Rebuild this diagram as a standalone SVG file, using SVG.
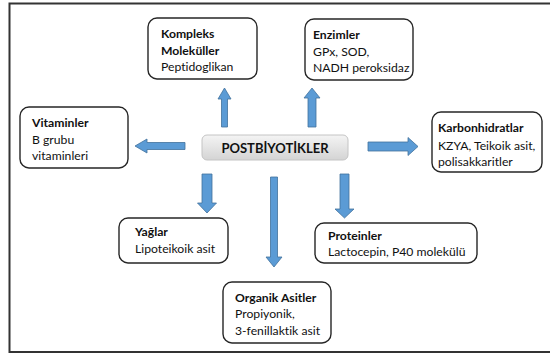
<svg xmlns="http://www.w3.org/2000/svg" width="550" height="356" viewBox="0 0 550 356">
<defs>
<linearGradient id="cg" x1="0" y1="0" x2="0" y2="1">
<stop offset="0" stop-color="#f4f4f4"/>
<stop offset="1" stop-color="#d4d4d4"/>
</linearGradient>
</defs>
<style>
.box{fill:#fff;stroke:#262626;stroke-width:1.4}
.t{font-family:Lato,"Liberation Sans",sans-serif;font-size:12.2px;fill:#111;font-variant-ligatures:none;font-feature-settings:"liga" 0,"dlig" 0}
.b{font-weight:bold}
.arr{fill:#5b9bd5;stroke:#41719c;stroke-width:0.8}
</style>
<rect x="9.5" y="3.5" width="560" height="348.5" fill="#fff" stroke="#333" stroke-width="2"/>
<g id="connectors">
<path class="arr" d="M221.5,127 V99 H218 L224.5,88 L231,99 H227.5 V127 Z"/>
<path class="arr" d="M308,127 V98 H304 L312,88 L320,98 H316 V127 Z"/>
<path class="arr" d="M185,142.5 H147 V139 L135,146 L147,153 V149.5 H185 Z"/>
<path class="arr" d="M368,142 H408 V137.5 L418,146.5 L408,155.5 V151 H368 Z"/>
<path class="arr" d="M202,174 V203 H197.5 L207,213 L216.5,203 H212 V174 Z"/>
<path class="arr" d="M340,174 V209 H335 L344.5,218 L354,209 H349 V174 Z"/>
<path class="arr" d="M270.5,177 V257 H266 L274,267 L282,257 H277.5 V177 Z"/>
</g>
<g id="center">
<rect x="202" y="135" width="146" height="25" rx="5" fill="url(#cg)" stroke="#c4c4c4" stroke-width="1"/>
<text class="t b" x="275" y="152.5" text-anchor="middle" style="font-size:13px">POSTBİYOTİKLER</text>
</g>
<g id="kompleks">
<rect class="box" x="148" y="18" width="109" height="61" rx="9"/>
<text class="t b" x="161" y="38">Kompleks</text>
<text class="t b" x="161" y="55">Moleküller</text>
<text class="t" x="161" y="71">Peptidoglikan</text>
</g>
<g id="enzimler">
<rect class="box" x="305" y="19" width="108" height="61" rx="9"/>
<text class="t b" x="313" y="39">Enzimler</text>
<text class="t" x="313" y="56">GPx, SOD,</text>
<text class="t" x="313" y="72">NADH peroksidaz</text>
</g>
<g id="vitaminler">
<rect class="box" x="20" y="107" width="108" height="61" rx="9"/>
<text class="t b" x="32" y="127">Vitaminler</text>
<text class="t" x="32" y="144">B grubu</text>
<text class="t" x="32" y="160">vitaminleri</text>
</g>
<g id="karbonhidratlar">
<rect class="box" x="432" y="112" width="110" height="60" rx="9"/>
<text class="t b" x="438" y="132">Karbonhidratlar</text>
<text class="t" x="438" y="150">KZYA, Teikoik asit,</text>
<text class="t" x="438" y="166">polisakkaritler</text>
</g>
<g id="yaglar">
<rect class="box" x="119" y="218" width="109" height="45" rx="9"/>
<text class="t b" x="135" y="236">Yağlar</text>
<text class="t" x="135" y="253">Lipoteikoik asit</text>
</g>
<g id="proteinler">
<rect class="box" x="315" y="223" width="162" height="40" rx="9"/>
<text class="t b" x="328" y="240">Proteinler</text>
<text class="t" x="328" y="256">Lactocepin, P40 molekülü</text>
</g>
<g id="organik">
<rect class="box" x="223" y="282" width="108" height="61" rx="9"/>
<text class="t b" x="235" y="302">Organik Asitler</text>
<text class="t" x="235" y="318">Propiyonik,</text>
<text class="t" x="235" y="335">3-fenillaktik asit</text>
</g>
</svg>
